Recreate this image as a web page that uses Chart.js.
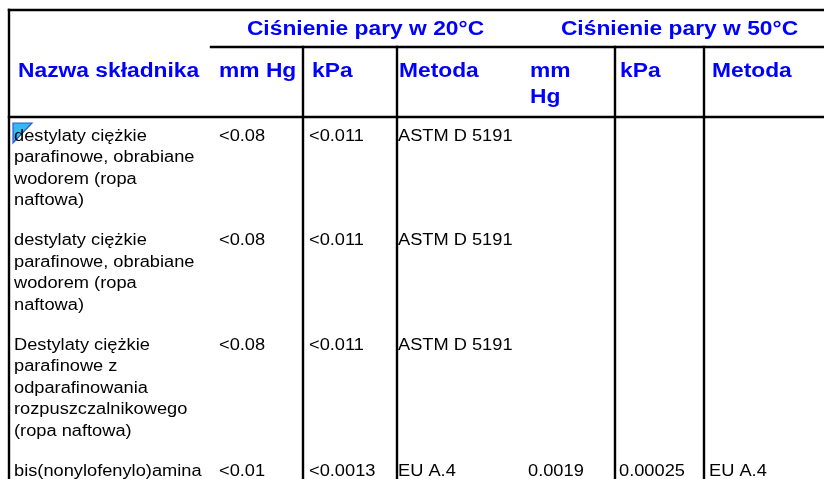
<!DOCTYPE html>
<html>
<head>
<meta charset="utf-8">
<script src="https://cdn.jsdelivr.net/npm/chart.js@4.4.1/dist/chart.umd.min.js"></script>
<style>
  html, body { margin: 0; padding: 0; background: #ffffff; }
  #wrap { width: 824px; height: 479px; }
</style>
</head>
<body>
<div id="wrap"><canvas id="c" width="824" height="479"></canvas></div>
<script>
// ---------- DATA ----------
const groupHeaders = ['Ciśnienie pary w 20°C', 'Ciśnienie pary w 50°C'];
const columnHeaders = ['Nazwa składnika', 'mm Hg', 'kPa', 'Metoda', 'mm\nHg', 'kPa', 'Metoda'];
const components = [
  'destylaty ciężkie\nparafinowe, obrabiane\nwodorem (ropa\nnaftowa)',
  'destylaty ciężkie\nparafinowe, obrabiane\nwodorem (ropa\nnaftowa)',
  'Destylaty ciężkie\nparafinowe z\nodparafinowania\nrozpuszczalnikowego\n(ropa naftowa)',
  'bis(nonylofenylo)amina'
];
const mmHg20 = ['<0.08', '<0.08', '<0.08', '<0.01'];
const kPa20 = ['<0.011', '<0.011', '<0.011', '<0.0013'];
const method20 = ['ASTM D 5191', 'ASTM D 5191', 'ASTM D 5191', 'EU A.4'];
const mmHg50 = ['', '', '', '0.0019'];
const kPa50 = ['', '', '', '0.00025'];
const method50 = ['', '', '', 'EU A.4'];

// ---------- LAYOUT ----------
const W = 824, H = 479;
const layout = {
  cellTextX: [14, 219, 309, 398, 528, 619, 709],
  headTextX: [18, 219, 312, 399, 530, 620, 712],
  groupCenter: [365.5, 679.5],
  groupBaseline: 35,
  headBaseline: 77,
  headLineH: 26,
  firstBaseline: 140.5,
  lineH: 21.5,
  rowPad: 18.5,
  stretch: 1.14,
  marker: [[13, 123], [32, 123], [13, 143]],
  hRules: [[9, 824, 10], [211, 824, 47], [9, 824, 117]],
  vRules: [[9, 10, 479], [303, 47, 479], [397, 47, 479], [615, 47, 479], [704, 47, 479]]
};
const style = {
  blue: '#0000ff',
  text: '#000000',
  rule: '#000000',
  ruleW: 2.4,
  headFont: 'bold 20px "Liberation Sans", Arial, sans-serif',
  cellFont: '16px "Liberation Sans", Arial, sans-serif'
};

const ruleSets = [];
layout.hRules.forEach(r => ruleSets.push([{x: r[0], y: r[2]}, {x: r[1], y: r[2]}]));
layout.vRules.forEach(r => ruleSets.push([{x: r[0], y: r[1]}, {x: r[0], y: r[2]}]));

const datasets = ruleSets.map(pts => ({
  data: pts,
  showLine: true,
  borderColor: style.rule,
  borderWidth: style.ruleW,
  borderCapStyle: 'square',
  pointRadius: 0,
  fill: false,
  tension: 0
}));

const tablePlugin = {
  id: 'tableText',
  afterDatasetsDraw(chart) {
    const ctx = chart.ctx;
    const xs = chart.scales.x, ys = chart.scales.y;
    const px = v => xs.getPixelForValue(v);
    const py = v => ys.getPixelForValue(v);
    const s = layout.stretch;

    function put(text, x, y, font, color, align) {
      ctx.save();
      ctx.font = font;
      ctx.fillStyle = color;
      ctx.textBaseline = 'alphabetic';
      let left = px(x);
      if (align === 'center') left -= ctx.measureText(text).width * s / 2;
      ctx.translate(left, py(y));
      ctx.scale(s, 1);
      ctx.fillText(text, 0, 0);
      ctx.restore();
    }

    // group headers
    groupHeaders.forEach((t, i) => put(t, layout.groupCenter[i], layout.groupBaseline, style.headFont, style.blue, 'center'));
    // column headers
    columnHeaders.forEach((t, i) => {
      t.split('\n').forEach((ln, k) => put(ln, layout.headTextX[i], layout.headBaseline + k * layout.headLineH, style.headFont, style.blue));
    });

    // comment marker triangle in first data cell
    const m = layout.marker;
    ctx.save();
    ctx.beginPath();
    ctx.moveTo(px(m[0][0]), py(m[0][1]));
    ctx.lineTo(px(m[1][0]), py(m[1][1]));
    ctx.lineTo(px(m[2][0]), py(m[2][1]));
    ctx.closePath();
    ctx.fillStyle = '#35b9ef';
    ctx.fill();
    ctx.strokeStyle = '#2a5bd7';
    ctx.lineWidth = 1.2;
    ctx.stroke();
    ctx.restore();

    // data rows
    const cols = [components, mmHg20, kPa20, method20, mmHg50, kPa50, method50];
    let base = layout.firstBaseline;
    components.forEach((name, r) => {
      const nLines = name.split('\n').length;
      cols.forEach((col, c) => {
        const val = col[r];
        if (!val) return;
        val.split('\n').forEach((ln, k) => put(ln, layout.cellTextX[c], base + k * layout.lineH, style.cellFont, style.text));
      });
      base += nLines * layout.lineH + layout.rowPad;
    });
  }
};

new Chart(document.getElementById('c'), {
  type: 'scatter',
  data: { datasets },
  options: {
    responsive: false,
    devicePixelRatio: 1,
    animation: false,
    events: [],
    layout: { padding: 0 },
    plugins: { legend: { display: false }, tooltip: { enabled: false } },
    scales: {
      x: { type: 'linear', min: 0, max: W, display: false },
      y: { type: 'linear', min: 0, max: H, reverse: true, display: false }
    }
  },
  plugins: [tablePlugin]
});
</script>
</body>
</html>
